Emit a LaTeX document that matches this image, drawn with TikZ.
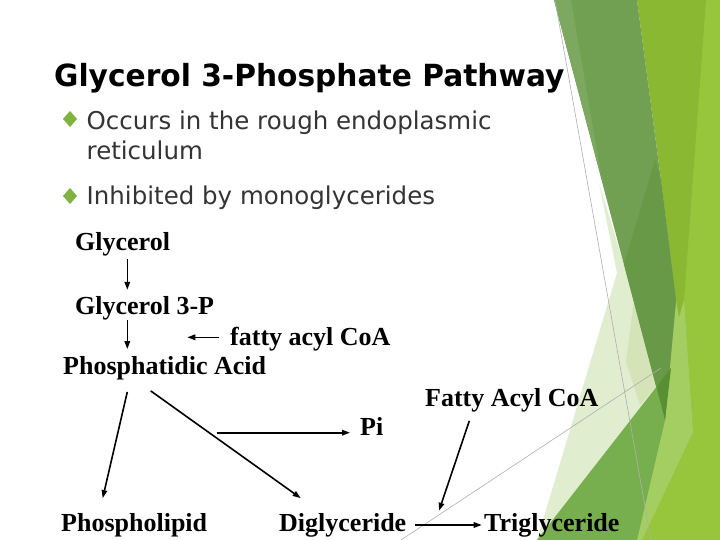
\documentclass[tikz,border=0pt]{standalone}
\usepackage{fontspec}
\setmainfont{Liberation Serif}
\newfontfamily\dejavu{DejaVu Sans}
\usetikzlibrary{arrows.meta}
\definecolor{darkband}{RGB}{114,160,83}
\definecolor{darkstrip}{RGB}{124,168,95}
\definecolor{darkinner}{RGB}{104,153,70}
\definecolor{ygband}{RGB}{138,184,51}
\definecolor{ygright}{RGB}{151,197,60}
\definecolor{lightstrip}{RGB}{164,205,98}
\definecolor{palegreen}{RGB}{224,237,206}
\definecolor{palegreenB}{RGB}{212,228,184}
\definecolor{medgreen}{RGB}{119,175,78}
\definecolor{tipgreen}{RGB}{88,143,50}
\definecolor{thinline}{RGB}{175,175,175}
\definecolor{bulletgreen}{RGB}{127,178,62}
\definecolor{bullettext}{RGB}{52,52,52}
\begin{document}
\begin{tikzpicture}[x=1pt,y=-1pt,
  lbl/.style={anchor=base west, inner sep=0pt, font=\fontsize{26}{30}\selectfont\bfseries, text height=18pt, text depth=6pt},
  bul/.style={anchor=base west, inner sep=0pt, text=bullettext, font=\dejavu\fontsize{24.5}{29}\selectfont},
  arr/.style={line width=1.6pt, -{Triangle[length=8pt,width=5.5pt]}},
  dia/.style={fill=bulletgreen}]
\useasboundingbox (0,0) rectangle (720,540);
\fill[white] (0,0) rectangle (720,540);
% background facets
\fill[ygright] (640,0) -- (720,0) -- (720,540) -- (600,540) -- (665,420) -- (676,300) -- cycle;
\fill[ygband] (637,0) -- (706,0) -- (684,300) -- (679,318) -- (676,300) -- (661,180) -- cycle;
\fill[lightstrip] (676,300) -- (679,318) -- (684,300) -- (693,432) -- (642,540) -- (636,540) -- (665,420) -- cycle;
\fill[palegreen] (599,183) -- (617,273) -- (537,540) -- (560,540) -- (661,381) -- (656,370) -- cycle;
\fill[palegreenB] (624,262) -- (634,300) -- (626,362) -- (640,405) -- (658,384) -- cycle;
\fill[darkband] (554,0) -- (637,0) -- (661,180) -- (676,300) -- (665,420) -- cycle;
\fill[darkstrip] (554,0) -- (571,0) -- (602,180) -- cycle;
\fill[darkinner] (655,160) -- (661,180) -- (676,300) -- (665,420) -- (624,264) -- cycle;
\fill[medgreen] (537,540) -- (661,381) -- (665,420) -- (637,540) -- cycle;
\fill[tipgreen] (656.5,387) -- (671,368) -- (665,420) -- cycle;
\draw[thinline, line width=0.6pt] (555,0) -- (651,540);
\draw[thinline, line width=0.6pt] (401,540) -- (661,368);
% title and bullets
\node[anchor=base west, inner sep=0pt, font=\dejavu\fontsize{30.5}{36}\selectfont\bfseries] (title) at (54,87) {\scalebox{0.973}[1]{Glycerol 3-Phosphate Pathway}};
\fill[dia] (70,111) -- (77,119) -- (70,127) -- (63,119) -- cycle;
\node[bul] (b1) at (86.5,129.3) {Occurs in the rough endoplasmic};
\node[bul] (b1b) at (86.5,160) {reticulum};
\fill[dia] (70,188) -- (77,196) -- (70,204) -- (63,196) -- cycle;
\node[bul] (b2) at (86.5,205) {Inhibited by monoglycerides};
% diagram labels
\node[lbl] (glycerol) at (75,251) {Glycerol};
\node[lbl] (g3p) at (75,314) {Glycerol 3-P};
\node[lbl] (facoa) at (230,345) {fatty acyl CoA};
\node[lbl] (pa) at (63,374) {Phosphatidic Acid};
\node[lbl] (facoaB) at (425,406) {Fatty Acyl CoA};
\node[lbl] (pi) at (360,435) {Pi};
\node[lbl] (phospholipid) at (61,531) {Phospholipid};
\node[lbl] (diglyceride) at (279,531) {Diglyceride};
\node[lbl] (triglyceride) at (484,531) {Triglyceride};
\coordinate (faend) at (187.3,337.3);
\coordinate (pistart) at (216.7,432.7);
\coordinate (tgjoin) at (439,510.7);
% connectors
\draw[arr, shorten <=2pt, shorten >=6pt] ([xshift=52.3pt]glycerol.south west) -- ([xshift=52.3pt]g3p.north west);
\draw[arr, shorten >=6.7pt] ([xshift=52.3pt]g3p.south west) -- ([xshift=64.3pt]pa.north west);
\draw[arr] ([xshift=-10.7pt,yshift=1.7pt]facoa.west) -- (faend);
\draw[arr] ([xshift=64.3pt,yshift=-11.7pt]pa.south west) -- ([xshift=41.7pt,yshift=14.7pt]phospholipid.north west);
\draw[arr] ([xshift=87.7pt,yshift=-10.7pt]pa.south west) -- ([xshift=21.7pt,yshift=14.7pt]diglyceride.north west);
\draw[arr] (pistart) -- ([xshift=-10pt,yshift=-3.7pt]pi.west);
\draw[arr] ([xshift=44.3pt,yshift=-8.7pt]facoaB.south west) -- (tgjoin);
\draw[arr, shorten <=9pt, shorten >=2.3pt] (diglyceride.east) -- (triglyceride.west);
\end{tikzpicture}
\end{document}
